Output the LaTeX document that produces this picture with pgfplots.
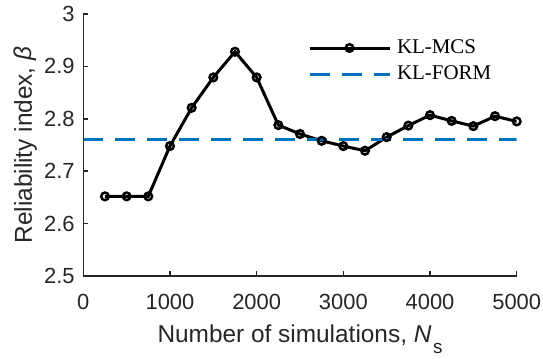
\documentclass[border=0pt]{standalone}
\usepackage{fontspec}
\setmainfont{Liberation Sans}
\newfontfamily\timesfont{Liberation Serif}
\usepackage{pgfplots}
\pgfplotsset{compat=1.18}
\definecolor{mblue}{rgb}{0,0.447,0.741}
\definecolor{axgray}{rgb}{0.15,0.15,0.15}
\pgfplotstableread{
x y
250 2.652
500 2.652
750 2.652
1000 2.748
1250 2.821
1500 2.879
1750 2.928
2000 2.879
2250 2.788
2500 2.771
2750 2.758
3000 2.748
3250 2.739
3500 2.765
3750 2.787
4000 2.807
4250 2.796
4500 2.786
4750 2.805
5000 2.795
}\mcs
\begin{document}
\begin{tikzpicture}
\begin{axis}[
  scale only axis,
  width=433.4bp, height=262bp,
  xmin=0, xmax=5000, ymin=2.5, ymax=3,
  xtick={0,1000,2000,3000,4000,5000},
  ytick={2.5,2.6,2.7,2.8,2.9,3},
  yticklabels={2.5,2.6,2.7,2.8,2.9,3},
  xticklabels={0,1000,2000,3000,4000,5000},
  axis x line*=bottom, axis y line*=left,
  axis line style={axgray, line width=1.5bp},
  tick style={axgray, line width=1.5bp},
  tick align=inside,
  major tick length=5bp,
  tick label style={font=\fontsize{22}{24}\selectfont, text=axgray, inner sep=0pt},
  xticklabel style={anchor=north, yshift=-18bp},
  yticklabel style={anchor=east, xshift=-8.5bp},
  label style={font=\fontsize{24.5}{26}\selectfont, text=axgray, inner sep=0pt},
  xlabel={Number of simulations, \textit{N}\kern1.5bp\raisebox{-11bp}{\fontsize{19}{20}\selectfont s}},
  ylabel={Reliability index, \textit{β}},
  xlabel style={at={(rel axis cs:0.5,-0.2557)}, anchor=base},
  ylabel style={at={(rel axis cs:-0.1184,0.5)}, anchor=base, rotate=0},
  legend style={draw=none, fill=none, at={(rel axis cs:0.5185,0.9084)}, anchor=north west,
    font=\timesfont\fontsize{21}{24}\selectfont, inner sep=0pt, outer sep=0pt,
    nodes={inner sep=0pt, text height=15bp, text depth=5bp}, row sep=6bp, column sep=6bp,
    legend cell align=left},
  legend image code/.code={\draw[mark repeat=2,mark phase=2] plot coordinates {(0bp,0bp) (40bp,0bp) (80bp,0bp)};},
]
\addplot[black, line width=3bp, mark=o, mark size=3.8bp, mark options={line width=2.5bp, fill=none}] table[x=x,y=y] {\mcs};
\addlegendentry{KL-MCS}
\addplot[mblue, line width=3bp, dash pattern=on 20bp off 12bp] coordinates {(0,2.761) (5000,2.761)};
\addlegendentry{KL-FORM}
\end{axis}
\pgfresetboundingbox
\path (-83.3bp,-83bp) rectangle (459.7bp,276bp);
\end{tikzpicture}
\end{document}
